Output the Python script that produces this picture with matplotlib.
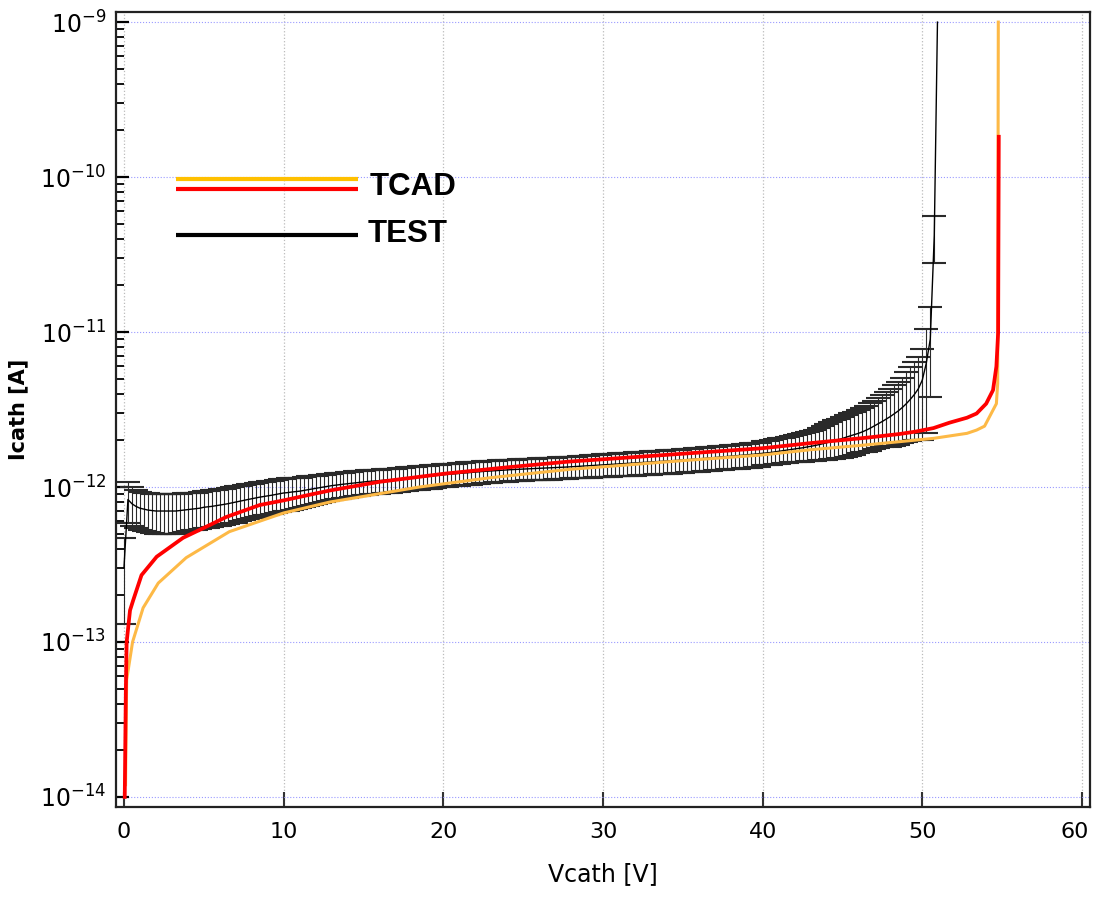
import numpy as np
import matplotlib
matplotlib.use("Agg")
import matplotlib.pyplot as plt
import matplotlib.transforms as mtransforms
from matplotlib.ticker import FixedLocator, NullFormatter

# values are in pA, converted to A when plotted
PA = 1e-12

# TEST: measured sweep, 0.25 V steps up to 50.5 V, then the breakdown points
test_v = list(np.arange(0, 50.51, 0.25)) + [50.75, 50.95]
test_mean = [
    0.30, 0.83, 0.78, 0.75, 0.73, 0.72, 0.71, 0.705, 0.70, 0.70, 0.70, 0.70, 0.70, 0.70, 0.705, 0.71,
    0.715, 0.72, 0.725, 0.73, 0.74, 0.745, 0.75, 0.757, 0.765, 0.772, 0.78, 0.79, 0.80, 0.81, 0.82, 0.83,
    0.84, 0.85, 0.86, 0.868, 0.875, 0.885, 0.895, 0.905, 0.915, 0.92, 0.928, 0.934, 0.94, 0.95, 0.96, 0.97,
    0.98, 0.99, 1.00, 1.01, 1.02, 1.028, 1.035, 1.043, 1.05, 1.057, 1.065, 1.072, 1.08, 1.085, 1.09, 1.095,
    1.10, 1.105, 1.11, 1.115, 1.12, 1.128, 1.135, 1.143, 1.15, 1.155, 1.16, 1.165, 1.17, 1.178, 1.185, 1.193,
    1.20, 1.206, 1.212, 1.218, 1.225, 1.231, 1.237, 1.243, 1.25, 1.255, 1.26, 1.265, 1.27, 1.275, 1.28, 1.285,
    1.29, 1.294, 1.298, 1.302, 1.305, 1.309, 1.313, 1.316, 1.32, 1.324, 1.328, 1.332, 1.335, 1.339, 1.343, 1.346,
    1.35, 1.355, 1.36, 1.365, 1.37, 1.375, 1.38, 1.385, 1.39, 1.395, 1.40, 1.405, 1.41, 1.415, 1.42, 1.425,
    1.43, 1.435, 1.44, 1.445, 1.45, 1.455, 1.46, 1.465, 1.47, 1.476, 1.482, 1.488, 1.495, 1.501, 1.507, 1.513,
    1.52, 1.527, 1.535, 1.542, 1.55, 1.557, 1.565, 1.572, 1.58, 1.588, 1.596, 1.604, 1.612, 1.62, 1.63, 1.64,
    1.65, 1.66, 1.67, 1.685, 1.70, 1.715, 1.73, 1.745, 1.76, 1.775, 1.79, 1.81, 1.83, 1.85, 1.875, 1.90,
    1.93, 1.96, 1.99, 2.02, 2.06, 2.10, 2.14, 2.18, 2.22, 2.27, 2.33, 2.40, 2.48, 2.56, 2.65, 2.75,
    2.85, 2.97, 3.10, 3.26, 3.45, 3.68, 3.95, 4.30, 4.90, 6.30, 9.00, 42.0, 1000.0,
]
# spread, same below and above the mean up to 39.75 V
test_err = [
    0.17, 0.245, 0.22, 0.21, 0.20, 0.20, 0.20, 0.20, 0.20, 0.20, 0.20, 0.20, 0.20, 0.20, 0.20, 0.20,
    0.195, 0.195, 0.195, 0.195, 0.20, 0.20, 0.20, 0.20, 0.205, 0.205, 0.205, 0.205, 0.21, 0.21, 0.21, 0.21,
    0.21, 0.21, 0.21, 0.21, 0.215, 0.215, 0.215, 0.215, 0.215, 0.215, 0.215, 0.215, 0.21, 0.21, 0.21, 0.21,
    0.20, 0.20, 0.20, 0.20, 0.195, 0.195, 0.195, 0.195, 0.195, 0.195, 0.195, 0.195, 0.195, 0.195, 0.195, 0.195,
    0.195, 0.195, 0.195, 0.195, 0.195, 0.195, 0.195, 0.195, 0.20, 0.20, 0.20, 0.20, 0.20, 0.20, 0.20, 0.20,
    0.20, 0.20, 0.20, 0.20, 0.205, 0.205, 0.205, 0.205, 0.205, 0.205, 0.205, 0.205, 0.205, 0.205, 0.205, 0.205,
    0.205, 0.205, 0.205, 0.205, 0.205, 0.205, 0.205, 0.205, 0.215, 0.215, 0.215, 0.215, 0.215, 0.215, 0.215, 0.215,
    0.215, 0.215, 0.215, 0.215, 0.225, 0.225, 0.225, 0.225, 0.235, 0.235, 0.235, 0.235, 0.24, 0.24, 0.24, 0.24,
    0.245, 0.245, 0.245, 0.245, 0.25, 0.25, 0.25, 0.25, 0.255, 0.255, 0.255, 0.255, 0.26, 0.26, 0.26, 0.26,
    0.265, 0.265, 0.265, 0.265, 0.27, 0.27, 0.27, 0.27, 0.28, 0.28, 0.28, 0.28, 0.29, 0.29, 0.29, 0.29,
]
# from 40 V on the spread is lopsided
test_err_lo_tail = [
    0.27, 0.27, 0.275, 0.28, 0.285, 0.29, 0.295, 0.30, 0.31, 0.32, 0.33, 0.34, 0.35, 0.37, 0.39, 0.41,
    0.43, 0.45, 0.47, 0.49, 0.51, 0.53, 0.55, 0.56, 0.57, 0.60, 0.64, 0.68, 0.73, 0.78, 0.84, 0.92,
    1.03, 1.12, 1.22, 1.35, 1.50, 1.70, 1.95, 2.30, 2.90, 4.07, 5.20, 14.0, 0.0,
]
test_err_hi_tail = [
    0.32, 0.33, 0.34, 0.35, 0.36, 0.37, 0.38, 0.39, 0.40, 0.41, 0.43, 0.45, 0.47, 0.50, 0.54, 0.58,
    0.62, 0.66, 0.70, 0.74, 0.79, 0.82, 0.85, 0.87, 0.90, 0.95, 1.00, 1.06, 1.12, 1.18, 1.25, 1.35,
    1.45, 1.55, 1.65, 1.80, 2.05, 2.25, 2.45, 2.65, 2.90, 4.10, 5.50, 14.0, 0.0,
]

# TCAD simulations
tcad_red_v = [0.05, 0.12, 0.17, 0.38, 0.58, 1.1, 2.05, 3.7, 5.4, 6.4, 8.5, 10, 11.6, 12.9, 16, 20.1,
              24, 27.9, 30, 35, 40, 43, 46.5, 48.6, 49.6, 50.7, 51.7, 52.8, 53.4, 54.0, 54.43, 54.64,
              54.75, 54.79]
tcad_red_i = [0.01, 0.05, 0.10, 0.16, 0.186, 0.27, 0.355, 0.47, 0.57, 0.64, 0.765, 0.82, 0.89, 0.95, 1.08, 1.22,
              1.34, 1.46, 1.51, 1.64, 1.78, 1.92, 2.08, 2.20, 2.28, 2.40, 2.60, 2.80, 2.98, 3.45, 4.22, 6.0,
              9.9, 182.0]
tcad_orange_v = [0.1, 0.17, 0.54, 1.2, 2.15, 3.9, 6.6, 10, 12.9, 18.5, 23, 27.9, 30, 35, 40, 43,
                 46.5, 50.7, 52.8, 53.4, 53.9, 54.64, 54.72, 54.76]
tcad_orange_i = [0.012, 0.057, 0.10, 0.166, 0.24, 0.35, 0.515, 0.68, 0.80, 1.0, 1.15, 1.30, 1.35, 1.48, 1.61, 1.74,
                 1.87, 2.06, 2.22, 2.33, 2.47, 3.45, 4.66, 1000.0]

decades = [-14, -13, -12, -11, -10, -9]

test_v = np.array(test_v)
test_mean = np.array(test_mean) * PA
err_lo = np.array(test_err + test_err_lo_tail) * PA
err_hi = np.array(test_err + test_err_hi_tail) * PA

plt.rcParams["mathtext.default"] = "regular"

fig = plt.figure(figsize=(10.94, 8.97), dpi=100)
ax = fig.add_axes([0.106, 0.1003, 0.8903, 0.8863])

ax.errorbar(test_v[:-1], test_mean[:-1], yerr=[err_lo[:-1], err_hi[:-1]], fmt="none",
            ecolor="#2a2a2a", elinewidth=0.8, capsize=8.5, capthick=1.5, zorder=2)
ax.plot(test_v, test_mean, color="black", lw=1.0, zorder=2.5)
ax.plot(tcad_orange_v, np.array(tcad_orange_i) * PA, color="#FDB946", lw=2.2, zorder=3)
ax.plot(tcad_red_v, np.array(tcad_red_i) * PA, color="#FF0000", lw=2.7, zorder=4)

ax.set_yscale("log")
ax.set_ylim(10 ** -14.065, 10 ** -8.935)
ax.set_xlim(-0.5, 60.5)
ax.set_xticks(range(0, 61, 10))
ax.yaxis.set_major_locator(FixedLocator([10.0 ** d for d in decades]))
ax.set_yticklabels(["$10^{%d}$" % d for d in decades])
ax.yaxis.set_minor_locator(FixedLocator([m * 10.0 ** d for d in decades[:-1] for m in range(2, 10)]))
ax.yaxis.set_minor_formatter(NullFormatter())

ax.tick_params(axis="x", direction="in", length=11, width=1.5, labelsize=16, pad=11, color="#333333")
ax.tick_params(axis="y", which="major", direction="in", length=9, width=1.6, labelsize=17, pad=7)
ax.tick_params(axis="y", which="minor", direction="in", length=6, width=1.3)
for s in ax.spines.values():
    s.set_linewidth(1.6)
    s.set_color("#222222")

# nudge the last x label so it stays inside the picture
last = ax.get_xticklabels()[-1]
last.set_transform(last.get_transform() + mtransforms.ScaledTranslation(-5 / 72, 0, fig.dpi_scale_trans))

ax.grid(axis="x", which="major", ls=":", color="#bbbbbb", lw=0.9)
ax.grid(axis="y", which="major", ls=":", color="#9a9aff", lw=0.8)

ax.set_xlabel("Vcath [V]", fontsize=17, labelpad=14)
ax.set_ylabel("Icath [A]", fontsize=15, fontweight="bold")
ax.yaxis.set_label_coords(-0.09, 0.5)

# hand-drawn legend block
ax.plot([0.0616, 0.2485], [0.7896, 0.7896], transform=ax.transAxes, color="#FFC000", lw=3, solid_capstyle="butt")
ax.plot([0.0616, 0.2485], [0.7770, 0.7770], transform=ax.transAxes, color="#FF0000", lw=3, solid_capstyle="butt")
ax.plot([0.0616, 0.2485], [0.7195, 0.7195], transform=ax.transAxes, color="black", lw=3, solid_capstyle="butt")
ax.text(0.2608, 0.7698, "TCAD", transform=ax.transAxes, fontsize=22.5, fontweight="bold",
        family="Liberation Sans", va="baseline")
ax.text(0.2585, 0.7107, "TEST", transform=ax.transAxes, fontsize=22.5, fontweight="bold",
        family="Liberation Sans", va="baseline")

fig.savefig("out.png", dpi=100)
